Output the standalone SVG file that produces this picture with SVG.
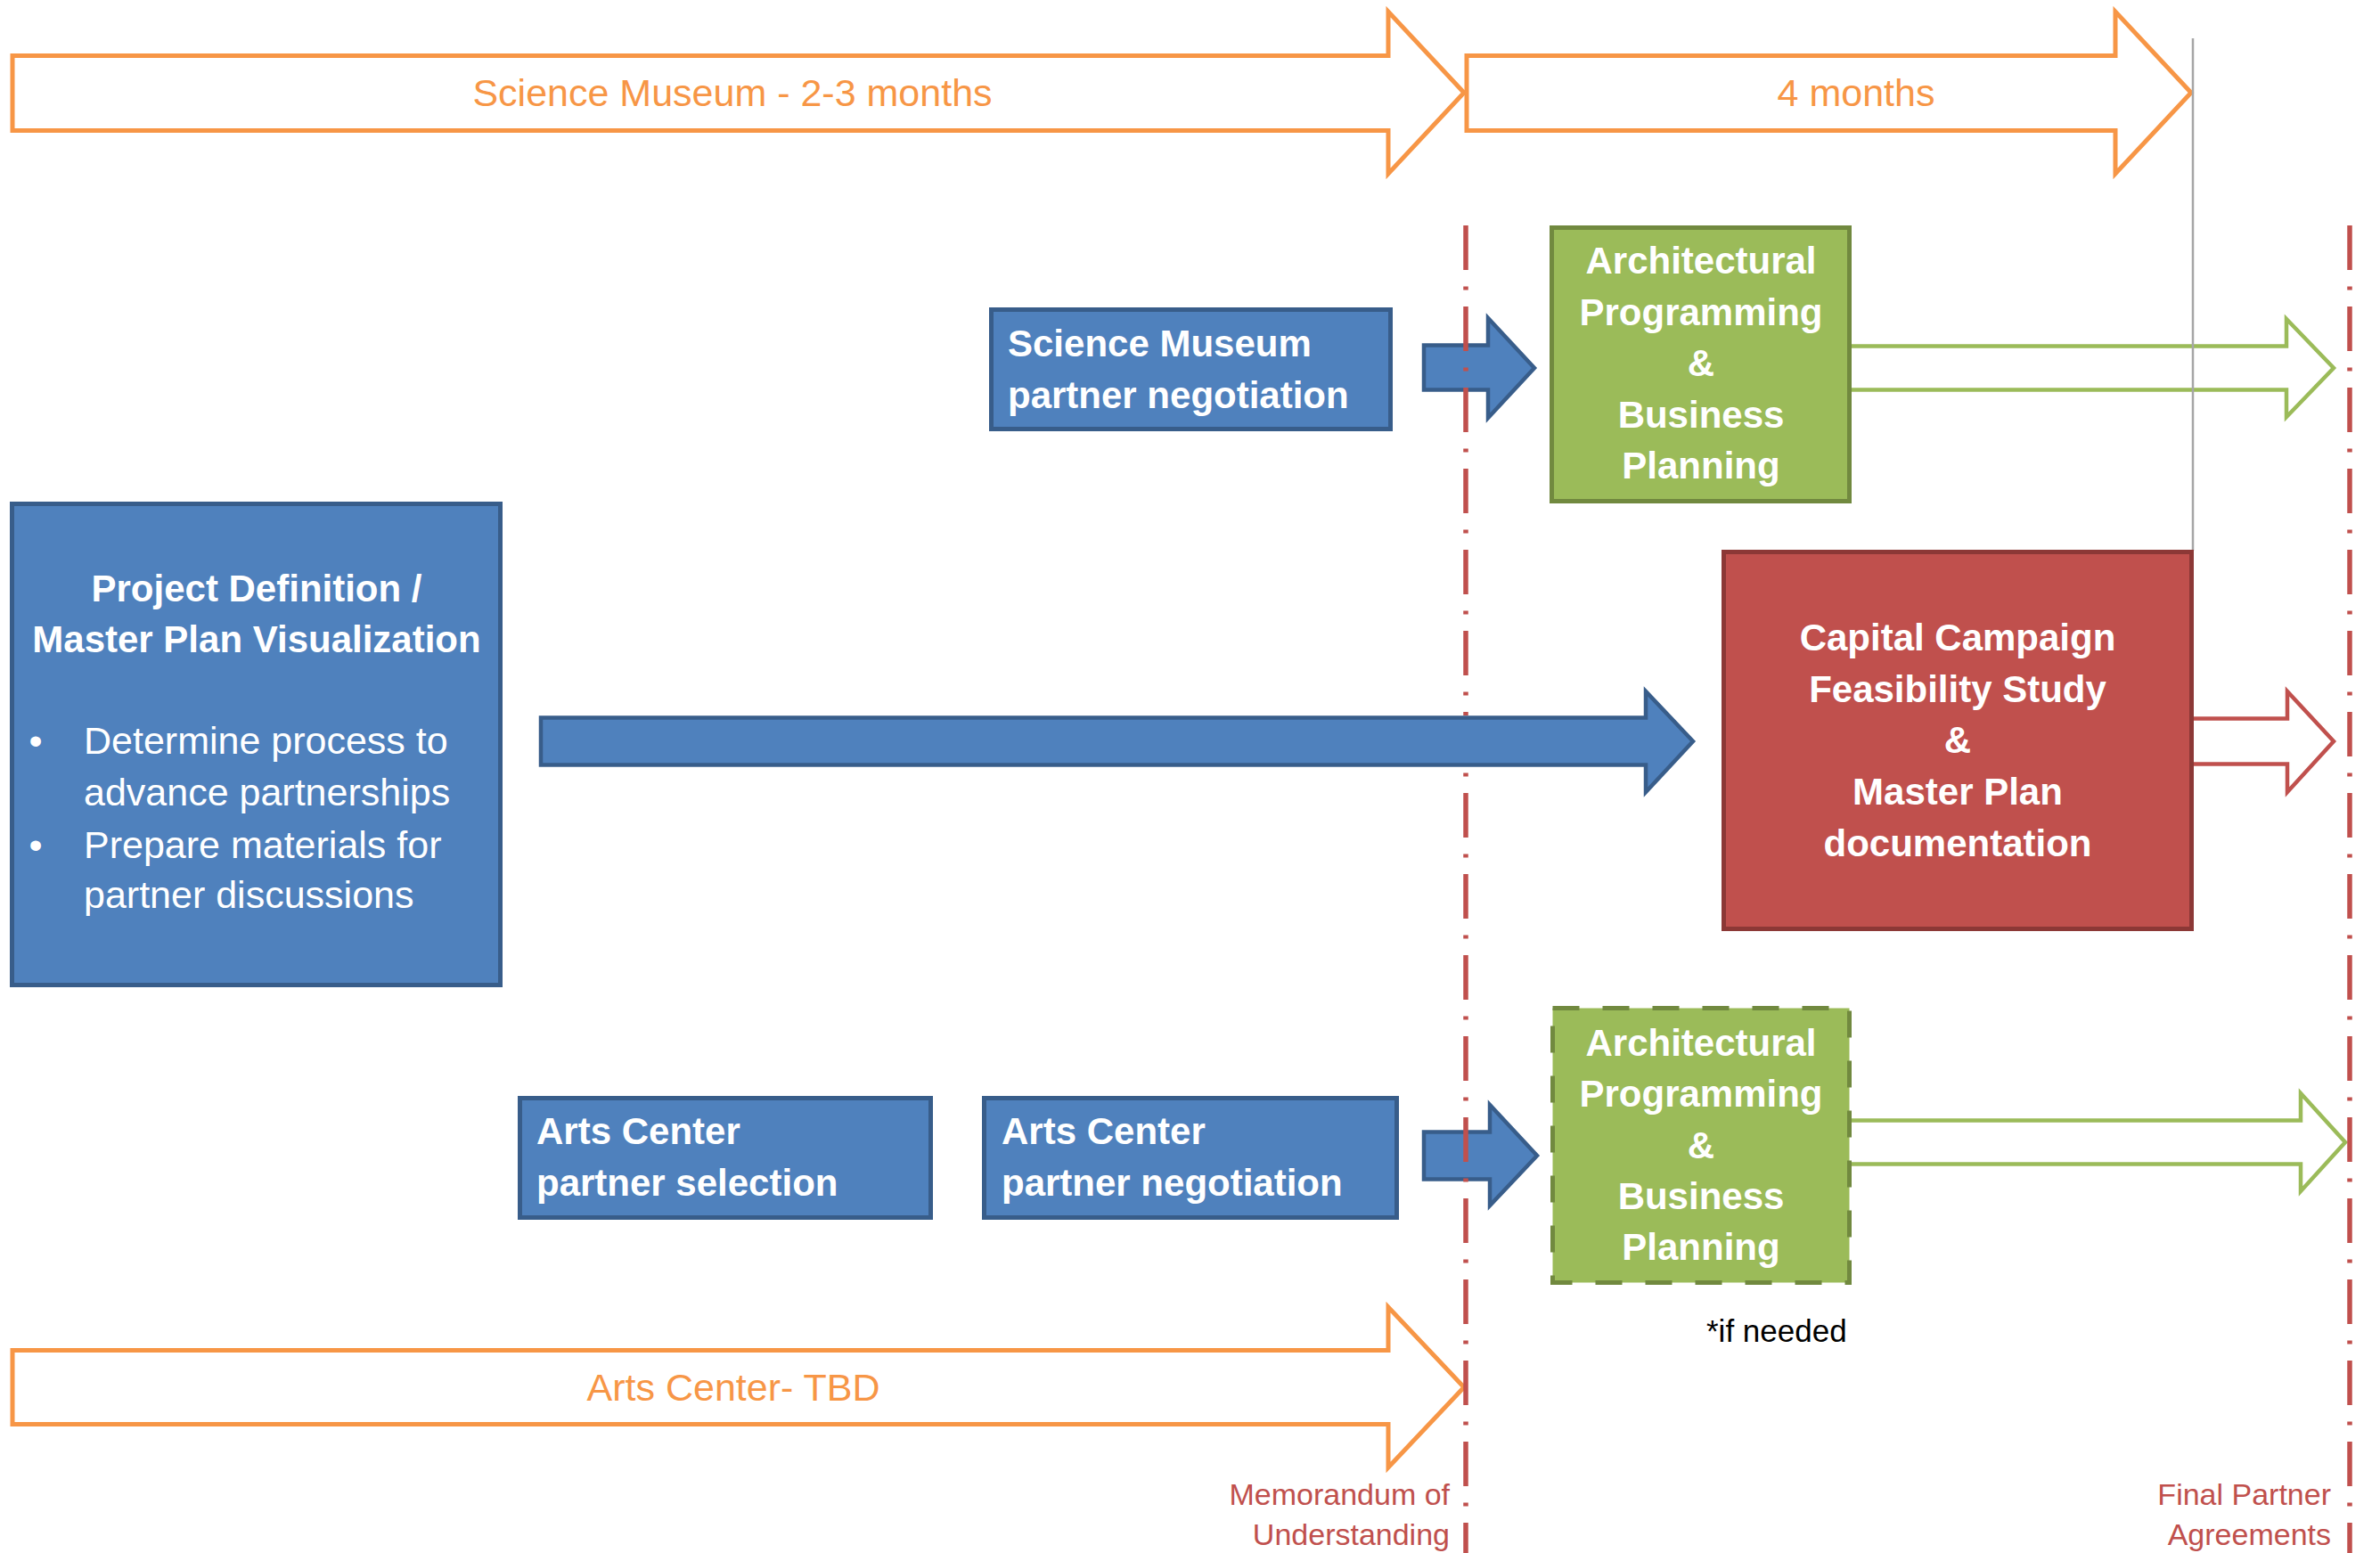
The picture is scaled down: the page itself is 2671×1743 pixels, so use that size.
<svg xmlns="http://www.w3.org/2000/svg" width="2671" height="1743" viewBox="0 0 2671 1743">
<style>
text{font-family:"Liberation Sans",Arial,Helvetica,sans-serif}
.b{font-weight:bold;font-size:42px;fill:#FFFFFF}
.c{text-anchor:middle}
.r{font-size:43px;fill:#FFFFFF}
.o{font-size:43px;fill:#F79646;text-anchor:middle}
.lbl{font-size:34px;fill:#C0504D;text-anchor:end}
.tl{fill:#FFFFFF;stroke:#F79646;stroke-width:5;stroke-miterlimit:10}
.blue{fill:#4F81BD;stroke:#385D8A;stroke-width:5}
.green{fill:#9BBB59;stroke:#71893F;stroke-width:5}
.red{fill:#C0504D;stroke:#8C3836;stroke-width:5}
.arB{fill:#4F81BD;stroke:#385D8A;stroke-width:4.5;stroke-miterlimit:10}
.arG{fill:#FFFFFF;stroke:#9BBB59;stroke-width:4.5;stroke-miterlimit:10}
.arR{fill:#FFFFFF;stroke:#C0504D;stroke-width:4.5;stroke-miterlimit:10}
.ms{stroke:#C0504D;stroke-width:5.5;stroke-dasharray:50 18.5 4 18.5;fill:none}
</style>
<rect x="0" y="0" width="2671" height="1743" fill="#FFFFFF"/>

<g id="timeline-science-museum">
<polygon class="tl" points="14,62.5 1558,62.5 1558,13 1643,104 1558,195 1558,146.5 14,146.5"/>
<text class="o" x="822" y="119">Science Museum - 2-3 months</text>
</g>
<g id="timeline-4-months">
<polygon class="tl" points="1646,62.5 2374,62.5 2374,13 2459,104 2374,195 2374,146.5 1646,146.5"/>
<text class="o" x="2083" y="119">4 months</text>
</g>
<g id="timeline-arts-center">
<polygon class="tl" points="14,1515.5 1558,1515.5 1558,1467 1643,1557 1558,1647 1558,1598.5 14,1598.5"/>
<text class="o" x="823" y="1572">Arts Center- TBD</text>
</g>

<g id="connectors">
<polygon id="c-sm-neg-arch" class="arB" points="1598,387.5 1670,387.5 1670,357 1722,413 1670,469 1670,437.5 1598,437.5"/>
<polygon id="c-ac-neg-arch" class="arB" points="1598,1270.5 1672,1270.5 1672,1240 1725,1297 1672,1353 1672,1323.5 1598,1323.5"/>
<polygon id="c-arch1-final" class="arG" points="2070,388.5 2566,388.5 2566,358 2619,413 2566,468 2566,437.5 2070,437.5"/>
<polygon id="c-arch2-final" class="arG" points="2070,1257.5 2582,1257.5 2582,1227 2632,1282 2582,1337 2582,1306.5 2070,1306.5"/>
<polygon id="c-cap-final" class="arR" points="2455,806.5 2567,806.5 2567,776 2619,832 2567,889 2567,857.5 2455,857.5"/>
<polygon id="c-proj-cap" class="arB" points="607,805.5 1847,805.5 1847,776 1900,832 1847,889 1847,858.5 607,858.5"/>
</g>

<g id="milestones">
<line class="ms" x1="1645" y1="253" x2="1645" y2="803"/>
<line class="ms" x1="1645" y1="862" x2="1645" y2="1743" stroke-dashoffset="63"/>
<line class="ms" x1="2637" y1="253" x2="2637" y2="1743"/>
<line x1="2461" y1="43" x2="2461" y2="618" stroke="#A6A6A6" stroke-width="2.5"/>
<text class="lbl" x="1627" y="1689">Memorandum of</text>
<text class="lbl" x="1627" y="1734">Understanding</text>
<text class="lbl" x="2616" y="1689">Final Partner</text>
<text class="lbl" x="2616" y="1734">Agreements</text>
</g>

<g id="project-definition">
<rect class="blue" x="13.5" y="565.5" width="548" height="540"/>
<text class="b c" x="288" y="675">Project Definition /</text>
<text class="b c" x="288" y="732">Master Plan Visualization</text>
<text class="r c" x="40" y="846">•</text>
<text class="r" x="94" y="846">Determine process to</text>
<text class="r" x="94" y="904">advance partnerships</text>
<text class="r c" x="40" y="963">•</text>
<text class="r" x="94" y="963">Prepare materials for</text>
<text class="r" x="94" y="1019">partner discussions</text>
</g>

<g id="science-museum-negotiation">
<rect class="blue" x="1112.5" y="347.5" width="448" height="134"/>
<text class="b" x="1131" y="400">Science Museum</text>
<text class="b" x="1131" y="458">partner negotiation</text>
</g>

<g id="arts-center-selection">
<rect class="blue" x="583.5" y="1232.5" width="461" height="134"/>
<text class="b" x="602" y="1284">Arts Center</text>
<text class="b" x="602" y="1342">partner selection</text>
</g>

<g id="arts-center-negotiation">
<rect class="blue" x="1104.5" y="1232.5" width="463" height="134"/>
<text class="b" x="1124" y="1284">Arts Center</text>
<text class="b" x="1124" y="1342">partner negotiation</text>
</g>

<g id="architectural-programming-1">
<rect class="green" x="1741.5" y="255.5" width="334" height="307"/>
<text class="b c" x="1909" y="307">Architectural</text>
<text class="b c" x="1909" y="364.5">Programming</text>
<text class="b c" x="1909" y="422">&amp;</text>
<text class="b c" x="1909" y="479.5">Business</text>
<text class="b c" x="1909" y="537">Planning</text>
</g>

<g id="capital-campaign">
<rect class="red" x="1934.5" y="619.5" width="525" height="423"/>
<text class="b c" x="2197" y="730">Capital Campaign</text>
<text class="b c" x="2197" y="788">Feasibility Study</text>
<text class="b c" x="2197" y="845">&amp;</text>
<text class="b c" x="2197" y="903">Master Plan</text>
<text class="b c" x="2197" y="961">documentation</text>
</g>

<g id="architectural-programming-2">
<rect class="green" x="1742.5" y="1131.5" width="333" height="308" stroke-dasharray="30 26"/>
<text class="b c" x="1909" y="1185">Architectural</text>
<text class="b c" x="1909" y="1242">Programming</text>
<text class="b c" x="1909" y="1300">&amp;</text>
<text class="b c" x="1909" y="1357">Business</text>
<text class="b c" x="1909" y="1414">Planning</text>
<text x="1915" y="1506" font-size="35" fill="#000000">*if needed</text>
</g>
</svg>
